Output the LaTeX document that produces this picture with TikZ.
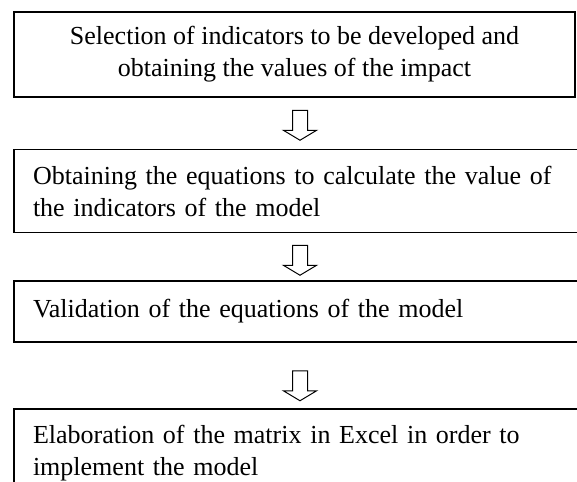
\documentclass[tikz,border=0pt]{standalone}
\usepackage{fontspec}
\setmainfont{Liberation Serif}
\usetikzlibrary{shapes.arrows}

\tikzset{
  stepbox/.style={draw,line width=1.4pt,inner xsep=19pt,inner ysep=0pt,
    font=\fontsize{26}{32}\selectfont},
  flowarrow/.style={single arrow,draw,fill=white,line width=1pt,inner xsep=0pt,inner ysep=7pt,
    minimum height=30pt,single arrow head extend=9pt,single arrow tip angle=118,rotate=-90}
}

\begin{document}
\begin{tikzpicture}[x=1pt,y=-1pt]
  \useasboundingbox (0,0) rectangle (577,481);
  \clip (0,0) rectangle (577,481);

  % Steps of the procedure, top to bottom.
  \node[stepbox,minimum width=561pt,minimum height=85pt,align=center] (select) at (294.5,54.5)
    {Selection of indicators to be developed and\\obtaining the values of the impact};
  \node[stepbox,minimum width=576pt,minimum height=83pt,text width=538pt,align=left] (equations) at (302,191)
    {Obtaining the equations to calculate the value of\\the indicators of the model};
  \node[stepbox,minimum width=576pt,minimum height=61pt,text width=538pt,align=left] (validate) at (302,311.5)
    {Validation of the equations of the model};
  \node[stepbox,minimum width=576pt,minimum height=88pt,text width=538pt,align=left] (matrix) at (302,453)
    {Elaboration of the matrix in Excel in order to\\implement the model};

  % Hollow arrows between the steps.
  \node[flowarrow] (arrowA) at (300,123) {};
  \node[flowarrow] (arrowB) at (300,258) {};
  \node[flowarrow] (arrowC) at (300,383.5) {};
\end{tikzpicture}
\end{document}
